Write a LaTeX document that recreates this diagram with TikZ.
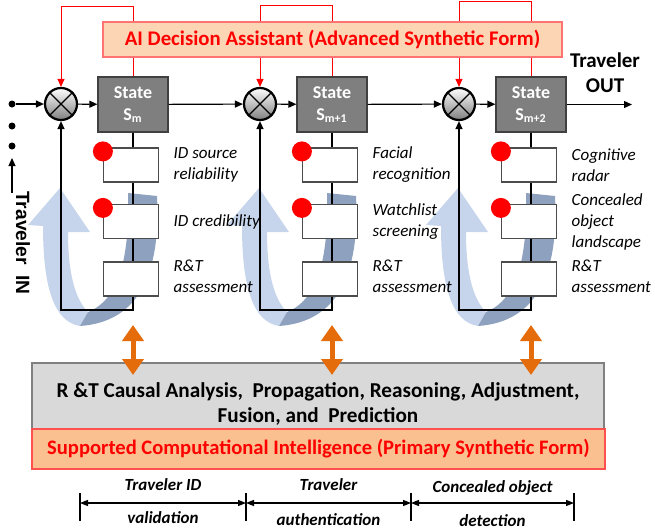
\documentclass[tikz,border=0pt]{standalone}
\usepackage{fontspec}
\setmainfont{Carlito}
\newfontfamily\arialfont{Liberation Sans}
\usetikzlibrary{arrows.meta,positioning}

\definecolor{stategray}{HTML}{7F7F7F}
\definecolor{bandlight}{HTML}{C6D5EB}
\definecolor{banddark}{HTML}{8EA1BE}
\definecolor{aifill}{HTML}{FCD5B5}
\definecolor{cifill}{HTML}{FAC090}
\definecolor{boxred}{HTML}{FF5050}
\definecolor{arrorange}{HTML}{E46C0A}
\definecolor{anagray}{HTML}{D9D9D9}

\tikzset{
  statebox/.style={draw=black!75, fill=stategray, text=white, align=center,
    minimum width=35pt, minimum height=27.5pt,
    font=\bfseries\fontsize{9}{11}\selectfont},
  mult/.style={circle, draw, line width=1.1pt, minimum size=16pt, inner sep=0pt,
    top color=white, middle color=black!8, bottom color=black!50},
  chkbox/.style={draw=black!70, fill=white, minimum width=27.5pt, minimum height=17pt},
  reddot/.style={circle, fill=red, minimum size=10pt, inner sep=0pt},
  dotn/.style={circle, fill=black, minimum size=3.5pt, inner sep=0pt},
  sublbl/.style={align=left, inner sep=0pt, font=\itshape\fontsize{8.5}{10.5}\selectfont},
  redline/.style={red, line width=0.5pt},
  dblarrow/.style={arrorange, line width=2.5pt,
    {Triangle[length=8pt,width=10.5pt]}-{Triangle[length=8pt,width=10.5pt]}},
  anabox/.style={draw=black!50, fill=anagray, align=center,
    minimum width=286pt, minimum height=40.5pt,
    font=\bfseries\fontsize{10.6}{12.5}\selectfont},
  cibox/.style={draw=boxred, fill=cifill, text=red,
    minimum width=286.5pt, minimum height=20pt, font=\bfseries\fontsize{10.3}{12}\selectfont},
  aibox/.style={draw=boxred!80, fill=aifill, text=red,
    minimum width=229.5pt, minimum height=17.5pt, font=\bfseries\fontsize{10.4}{12}\selectfont},
  dimarr/.style={{Triangle[length=4pt,width=3pt]}-{Triangle[length=4pt,width=3pt]}},
  dimlbl/.style={font=\bfseries\itshape\fontsize{8.5}{10}\selectfont},
  outlbl/.style={align=center, font=\bfseries\fontsize{10.5}{12.5}\selectfont},
  inlbl/.style={font=\arialfont\bfseries\fontsize{9.6}{11}\selectfont}
}

\begin{document}
\begin{tikzpicture}[x=0.5pt,y=-0.5pt,line width=0.6pt,>={Triangle[length=4pt,width=3.5pt]}]
\useasboundingbox (0,0) rectangle (655,531);

% shaded loop arrows behind everything
\foreach \dx in {0,199,398}{
  \begin{scope}[shift={(\dx,0)}]
    \fill[bandlight] (80,326) .. controls (55,322) and (43,290) .. (43,226) -- (28,225)
      -- (60,188) -- (90,232) -- (68,232) .. controls (68,270) and (74,298) .. (88,312) -- cycle;
    \fill[banddark] (128,193) -- (157,196) .. controls (161,275) and (138,322) .. (80,326)
      -- (88,312) .. controls (118,300) and (130,260) .. (128,193) -- cycle;
  \end{scope}
}

% bottom blocks
\node[anabox] (ana) at (318,403.5) {R \&T Causal Analysis,\ \ Propagation, Reasoning, Adjustment,\\Fusion, and\ \ Prediction};
\node[cibox] (ci) at (318.5,449) {Supported Computational Intelligence (Primary Synthetic Form)};

% the three stages
\foreach \i/\dx/\sub/\ytop/\la/\lb/\lc in {
  1/0/m/6/{ID source\\reliability}/{ID credibility}/{R\&T\\assessment},
  2/199/m+1/5/{Facial\\recognition}/{Watchlist\\screening}/{R\&T\\assessment},
  3/398/m+2/1.5/{Cognitive\\radar}/{Concealed\\object\\landscape}/{R\&T\\assessment}}{
  \begin{scope}[shift={(\dx,0)}]
    \node[mult] (c\i) at (61,104) {};
    \draw (c\i.north west) -- (c\i.south east) (c\i.north east) -- (c\i.south west);
    \node[statebox] (s\i) at (133,104.5) {State\\S\textsubscript{\sub}};
    \coordinate (lp\i) at (61,310);
    \draw[->] (s\i.south) |- (lp\i) -- (c\i.south);
    \coordinate (tp\i) at (61,\ytop);
    \draw[redline,->] (s\i.north) |- (tp\i) -- (c\i.north);
    \node[chkbox] (ba\i) at (131,165) {};
    \node[chkbox] (bb\i) at (131,221.5) {};
    \node[chkbox] (bc\i) at (131,279) {};
    \node[reddot] (ra\i) at ([yshift=-2pt]ba\i.north west) {};
    \node[reddot] (rb\i) at ([yshift=-2pt]bb\i.north west) {};
    \node[sublbl,right=7pt of ba\i] (la\i) {\la};
    \node[sublbl,right=7pt of bb\i] (lb\i) {\lb};
    \node[sublbl,right=7pt of bc\i,yshift=1.5pt] (lc\i) {\lc};
    \coordinate (ua\i) at (133,325);
    \coordinate (ub\i) at (133,375);
    \draw[dblarrow] (ua\i) -- (ub\i);
  \end{scope}
}

% traveler in
\node[dotn] (p1) at (12,104) {};
\node[dotn] (p2) at (12,126) {};
\node[dotn] (p3) at (12,146) {};
\coordinate (inb) at (12,193);
\coordinate (int) at (12,158);
\draw[->] (inb) -- (int);
\node[inlbl,rotate=-90] (tin) at (23,243) {Traveler\ \ IN};
\draw[->] (p1) -- (c1);

% main chain
\draw[->] (c1) -- (s1);
\draw[->] (s1) -- (c2);
\draw[->] (c2) -- (s2);
\draw[->] (s2) -- (c3);
\draw[->] (c3) -- (s3);
\coordinate (outp) at (632,104.5);
\draw[->] (s3) -- (outp);
\node[outlbl] (tout) at (605,72.5) {Traveler\\OUT};

% decision assistant on top of the red feedback
\node[aibox] (ai) at (332.5,39.5) {AI Decision Assistant (Advanced Synthetic Form)};

% phases
\coordinate (d0) at (80,503);
\coordinate (d1) at (246,503);
\coordinate (d2) at (411,503);
\coordinate (d3) at (574,503);
\draw[dimarr] (d0) -- (d1);
\draw[dimarr] (d1) -- (d2);
\draw[dimarr] (d2) -- (d3);
\foreach \k in {0,...,3}
  \draw (d\k) ++(0,-10) -- ++(0,28);
\node[dimlbl] (v1a) at (163,485) {Traveler ID};
\node[dimlbl] (v1b) at (163,518) {validation};
\node[dimlbl] (v2a) at (328.5,485) {Traveler};
\node[dimlbl] (v2b) at (328.5,520) {authentication};
\node[dimlbl] (v3a) at (492.5,488) {Concealed object};
\node[dimlbl] (v3b) at (492.5,521) {detection};
\end{tikzpicture}
\end{document}
